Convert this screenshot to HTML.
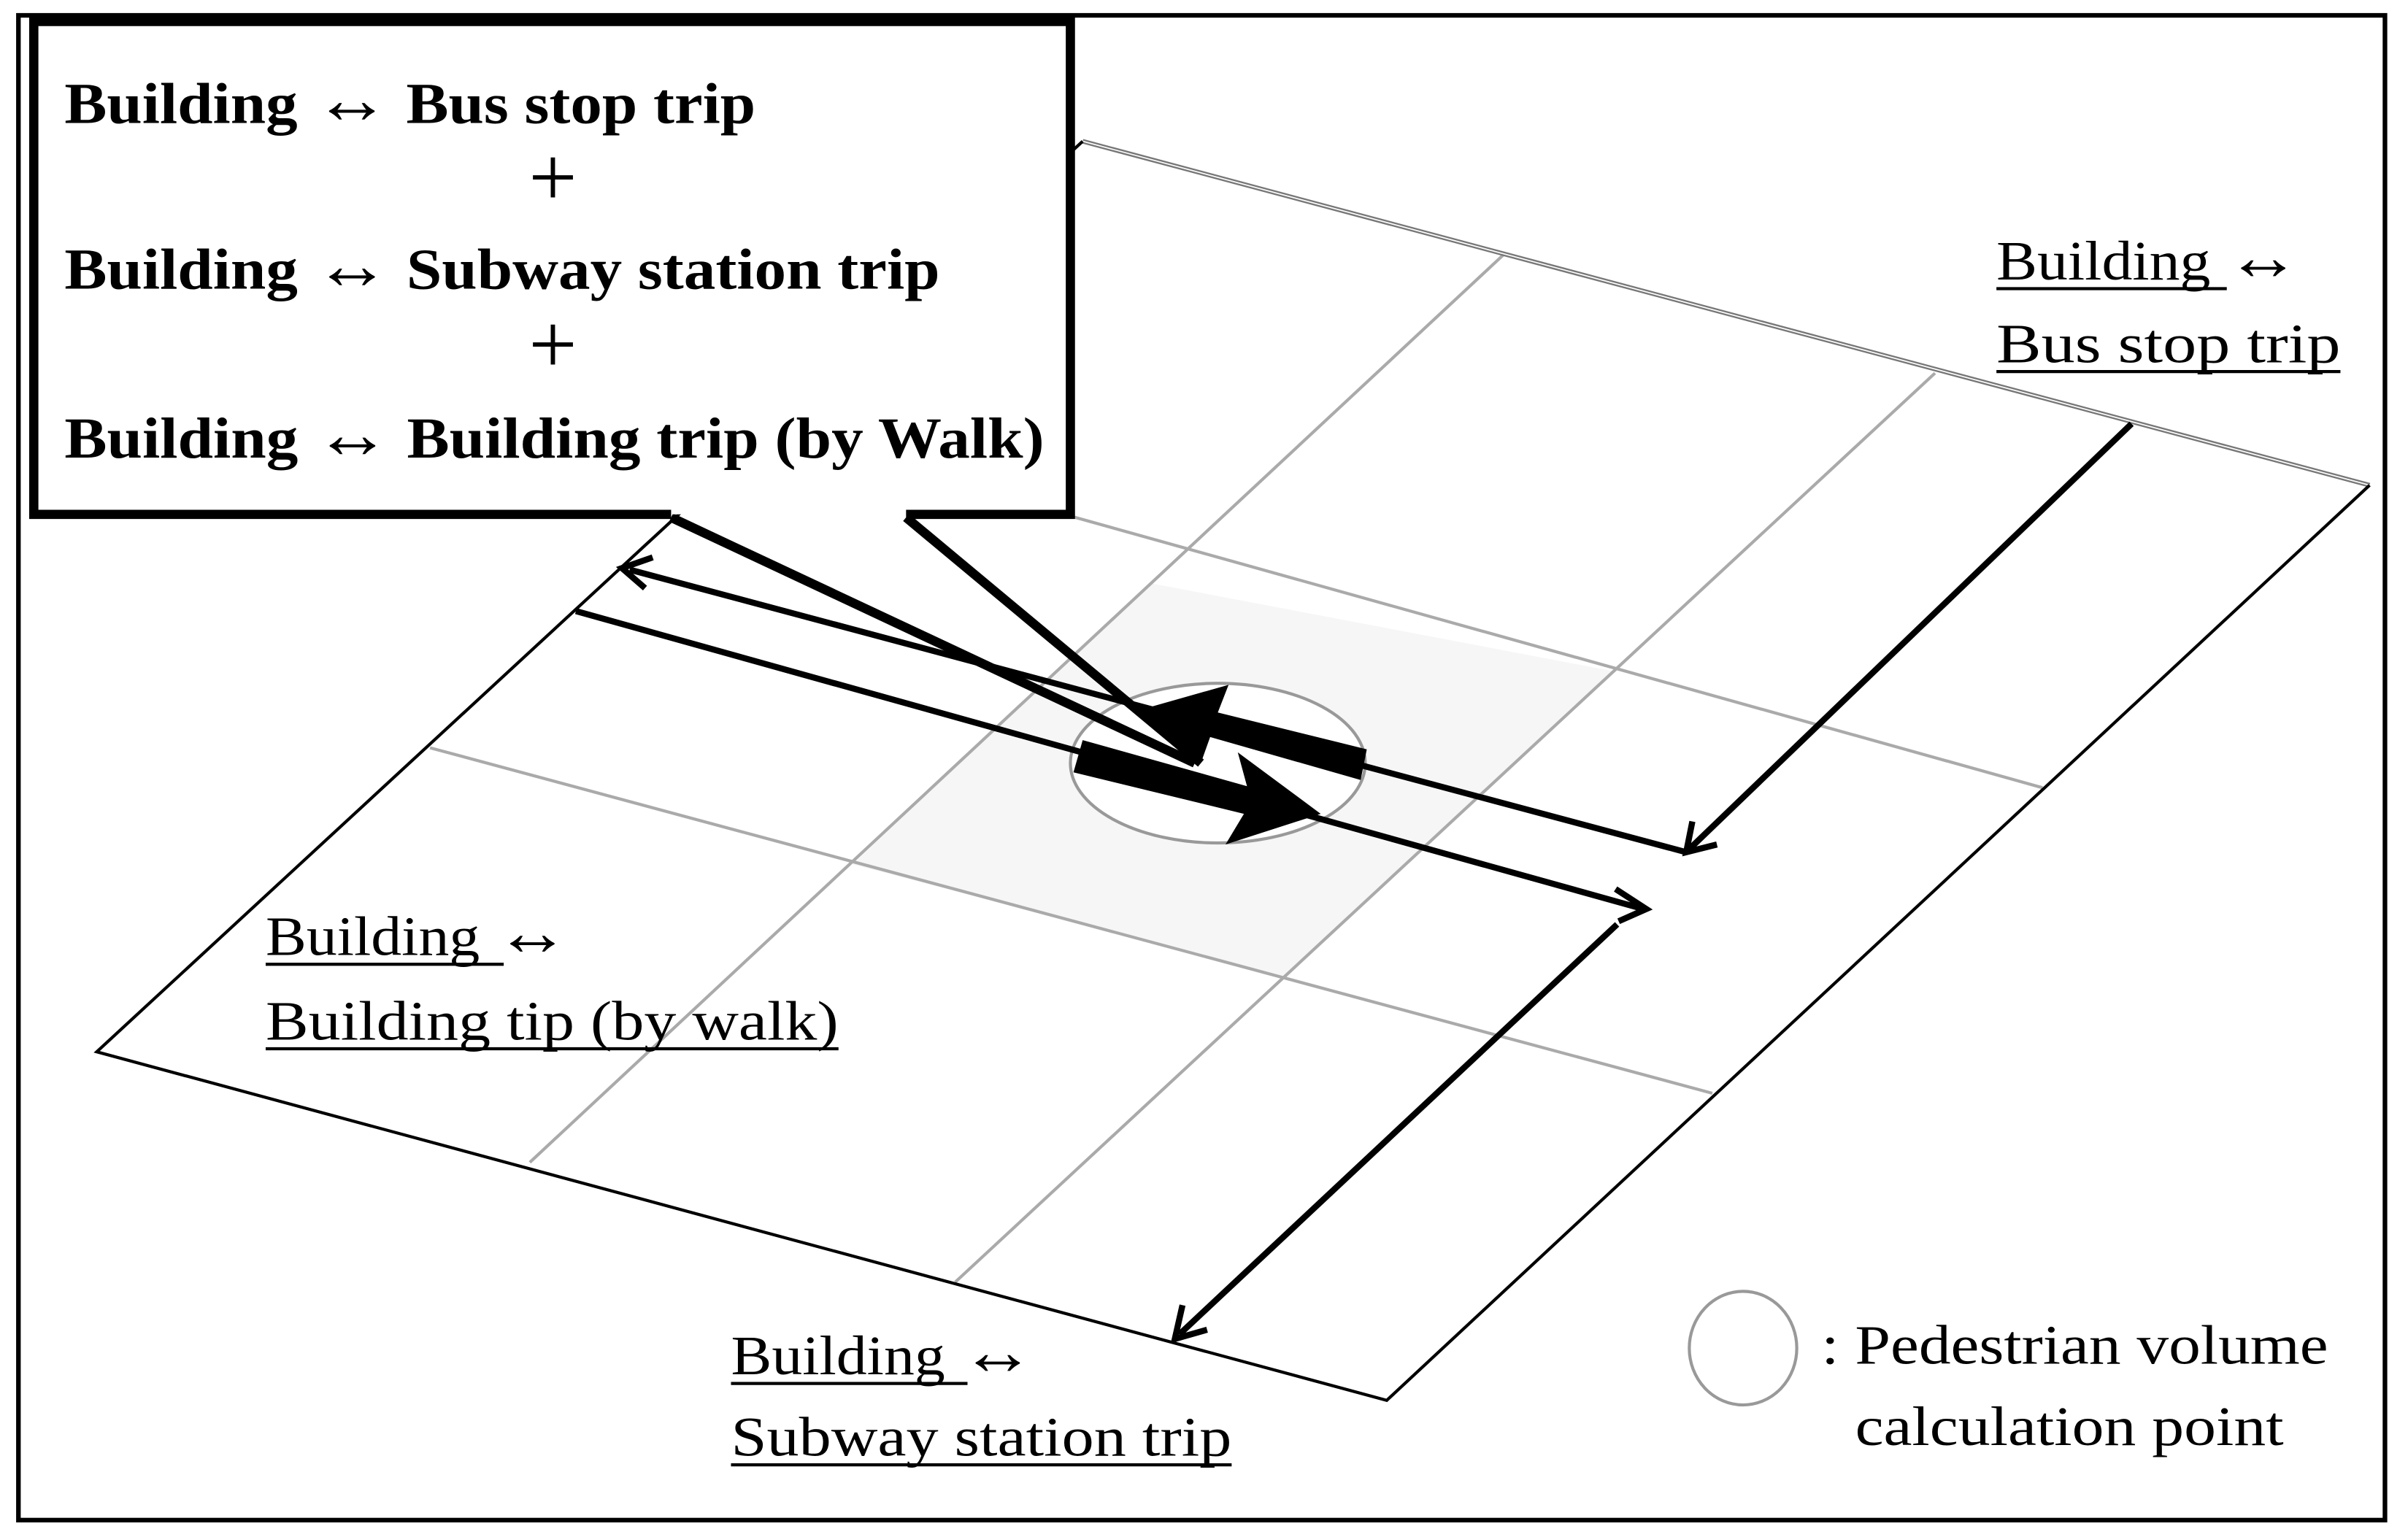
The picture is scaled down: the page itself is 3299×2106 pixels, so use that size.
<!DOCTYPE html>
<html><head><meta charset="utf-8"><style>
html,body{margin:0;padding:0;background:#fff;}
svg{display:block;}
text{font-family:"Liberation Serif",serif;}
</style></head><body>
<svg width="3299" height="2106" viewBox="0 0 1568 1001" preserveAspectRatio="none" xmlns="http://www.w3.org/2000/svg">
<rect x="0" y="0" width="1568" height="1001" fill="#fff"/>
<rect x="12" y="10" width="1541" height="980" fill="none" stroke="#000" stroke-width="3"/>
<!-- plane -->
<polygon points="705,92 1543,316 903,912 63,685" fill="#fff" stroke="none"/>
<polygon points="750,380 1050,437 838,636 555,563" fill="#f6f6f6"/>
<g stroke="#aaa" stroke-width="2" fill="none">
<line x1="345" y1="757" x2="980" y2="165"/>
<line x1="622" y1="835" x2="1260" y2="243"/>
<line x1="280" y1="487" x2="1115" y2="712"/>
<line x1="500" y1="281" x2="1330" y2="513"/>
</g>
<line x1="705" y1="92" x2="1543" y2="316" stroke="#777" stroke-width="3"/>
<line x1="705" y1="92" x2="1543" y2="316" stroke="#fff" stroke-width="0.8"/>
<polyline points="705,92 63,685 903,912 1543,316" fill="none" stroke="#000" stroke-width="2"/>
<ellipse cx="793" cy="497" rx="96" ry="52" fill="#fff" stroke="#999" stroke-width="2"/>
<!-- thin arrows -->
<g stroke="#000" stroke-width="4" fill="none">
<line x1="1098" y1="555" x2="410" y2="371"/>
<polyline points="425,363 405,370 420,383"/>
<line x1="1388" y1="276" x2="1100" y2="553"/>
<polyline points="1102,535 1098,555 1118,550"/>
<line x1="375" y1="398" x2="1070" y2="592"/>
<polyline points="1052,579 1072,592 1054,600"/>
<line x1="1053" y1="602" x2="768" y2="869"/>
<polyline points="770,850 765,872 786,866"/>
</g>
<!-- thick arrows -->
<polygon points="705,482 812,512 806,490 860,530 798,550 810,530 699,503" fill="#000"/>
<polygon points="890,488 793,464 800,446 740,463 783,494 788,480 886,508" fill="#000"/>
<!-- callout -->
<g stroke="#000" stroke-width="6" fill="none">
<line x1="437" y1="337" x2="778" y2="497"/>
<line x1="590" y1="337" x2="782" y2="497"/>
</g>
<polyline points="437,335 22,335 22,14 697,14 697,335 590,335" fill="#fff" stroke="#000" stroke-width="6"/>
<g font-weight="bold" font-size="38" fill="#000">
<text x="42" y="80" textLength="450" lengthAdjust="spacingAndGlyphs">Building <tspan font-weight="normal" font-size="46">↔</tspan> Bus stop trip</text>
<text x="360" y="134" text-anchor="middle" font-weight="normal" font-size="56">+</text>
<text x="42" y="188" textLength="570" lengthAdjust="spacingAndGlyphs">Building <tspan font-weight="normal" font-size="46">↔</tspan> Subway station trip</text>
<text x="360" y="243" text-anchor="middle" font-weight="normal" font-size="56">+</text>
<text x="42" y="298" textLength="638" lengthAdjust="spacingAndGlyphs">Building <tspan font-weight="normal" font-size="46">↔</tspan> Building trip (by Walk)</text>
</g>
<g font-size="36" fill="#000">
<text x="1300" y="182" textLength="198" lengthAdjust="spacingAndGlyphs">Building <tspan font-size="44">↔</tspan></text>
<text x="1300" y="236" textLength="224" lengthAdjust="spacingAndGlyphs"> Bus stop trip</text>
<text x="173" y="622" textLength="198" lengthAdjust="spacingAndGlyphs">Building <tspan font-size="44">↔</tspan></text>
<text x="173" y="677" textLength="373" lengthAdjust="spacingAndGlyphs">Building tip (by walk)</text>
<text x="476" y="895" textLength="198" lengthAdjust="spacingAndGlyphs">Building <tspan font-size="44">↔</tspan></text>
<text x="476" y="948" textLength="326" lengthAdjust="spacingAndGlyphs">Subway station trip</text>
<text x="1186" y="888" textLength="330" lengthAdjust="spacingAndGlyphs">: Pedestrian volume</text>
<text x="1208" y="941" textLength="279" lengthAdjust="spacingAndGlyphs">calculation point</text>
</g>
<g stroke="#000" stroke-width="2">
<line x1="1300" y1="188" x2="1450" y2="188"/>
<line x1="1300" y1="242" x2="1524" y2="242"/>
<line x1="173" y1="628" x2="328" y2="628"/>
<line x1="173" y1="683" x2="546" y2="683"/>
<line x1="476" y1="901" x2="630" y2="901"/>
<line x1="476" y1="954" x2="802" y2="954"/>
</g>
<ellipse cx="1135" cy="878" rx="35" ry="37" fill="none" stroke="#999" stroke-width="2"/>
</svg>
</body></html>
